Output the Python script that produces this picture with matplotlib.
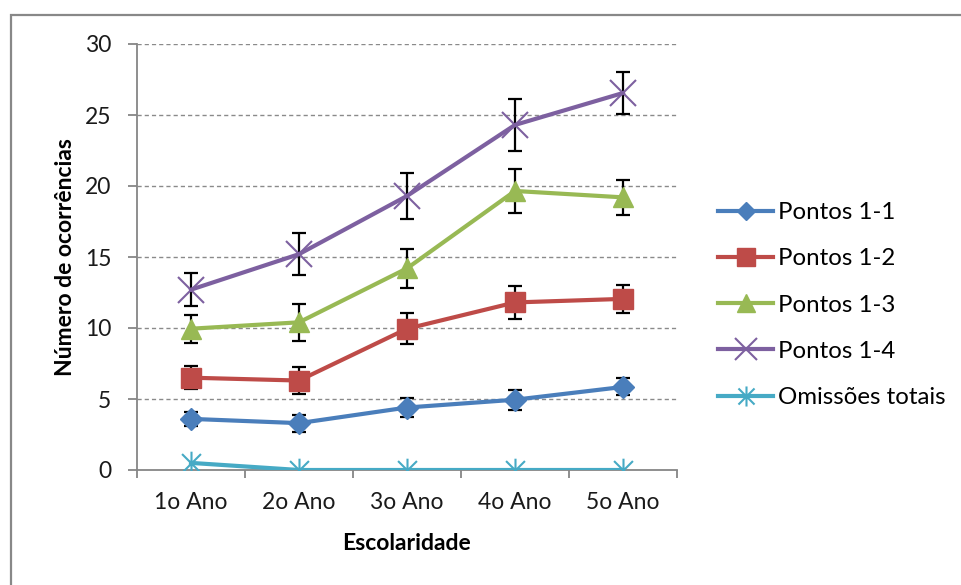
import numpy as np
import matplotlib
matplotlib.use("Agg")
import matplotlib.pyplot as plt
from matplotlib.path import Path
from matplotlib.patches import Rectangle

plt.rcParams['font.family'] = ['Lato', 'DejaVu Sans']

# dados
anos = ['1o Ano', '2o Ano', '3o Ano', '4o Ano', '5o Ano']
pontos_11 = [3.6, 3.3, 4.4, 4.95, 5.85]
erro_11 = [0.5, 0.6, 0.65, 0.7, 0.6]
pontos_12 = [6.5, 6.3, 9.95, 11.8, 12.05]
erro_12 = [0.8, 0.95, 1.1, 1.15, 1.0]
pontos_13 = [9.95, 10.4, 14.2, 19.65, 19.2]
erro_13 = [1.0, 1.3, 1.35, 1.55, 1.25]
pontos_14 = [12.7, 15.2, 19.3, 24.3, 26.55]
erro_14 = [1.15, 1.5, 1.6, 1.85, 1.45]
omissoes = [0.5, 0, 0, 0, 0]

# marcador asterisco estilo Excel (x + linha vertical)
asterisco = Path([(-1, -1), (1, 1), (-1, 1), (1, -1), (0, -1.25), (0, 1.25)],
                 [Path.MOVETO, Path.LINETO] * 3)

fig = plt.figure(figsize=(9.62, 5.85), dpi=100)
ax = fig.add_axes([137/962, 1 - 470/585, 540/962, 426/585])

x = np.arange(len(anos))

series = [
    (pontos_11, erro_11, 'Pontos 1-1', '#4A7EBB', dict(marker='D', ms=11)),
    (pontos_12, erro_12, 'Pontos 1-2', '#BE4B48', dict(marker='s', ms=15)),
    (pontos_13, erro_13, 'Pontos 1-3', '#98B954', dict(marker='^', ms=15)),
    (pontos_14, erro_14, 'Pontos 1-4', '#7D60A0', dict(marker='x', ms=19, mew=1.5)),
    (omissoes, None, 'Omissões totais', '#46AAC5', dict(marker=asterisco, ms=17, mew=1.5)),
]

for vals, err, nome, cor, mk in series:
    ax.plot(x, vals, color=cor, lw=3, label=nome, zorder=3,
            mfc=cor, mec=cor, **mk)
    if err is not None:
        ax.errorbar(x, vals, yerr=err, fmt='none', ecolor='black',
                    elinewidth=1.6, capsize=4.7, capthick=1.6, zorder=2.5)

ax.set_xlim(-0.5, 4.5)
ax.set_ylim(0, 30)
ax.set_yticks(np.arange(0, 31, 5))
ax.set_xticks(x)
ax.set_xticklabels(anos)
ax.set_xticks(np.arange(-0.5, 4.6, 1), minor=True)

for y in range(5, 31, 5):
    ax.axhline(y, color='#8a8a8a', lw=1, dashes=(3, 2.2), zorder=1)

for s in ['top', 'right']:
    ax.spines[s].set_visible(False)
for s in ['left', 'bottom']:
    ax.spines[s].set_color('#868686')
    ax.spines[s].set_linewidth(1.3)

ax.tick_params(axis='y', colors='#868686', length=6.5, width=1.3,
               labelcolor='#1a1a1a', labelsize=16.5, pad=12)
ax.tick_params(axis='x', which='major', length=0, labelcolor='#1a1a1a',
               labelsize=16.5, pad=16)
ax.tick_params(axis='x', which='minor', length=6, width=1.3, colors='#868686')

ax.set_ylabel('Número de ocorrências', fontsize=16.5, fontweight='bold')
ax.yaxis.set_label_coords(-0.113, 0.5)
ax.set_xlabel('Escolaridade', fontsize=16.5, fontweight='bold')
ax.xaxis.set_label_coords(0.5, -0.148)

fig.legend(loc='center left', bbox_to_anchor=(718/962, 1 - 305/585),
           frameon=False, fontsize=17.3, handlelength=2.3,
           handletextpad=0.2, labelspacing=1.05, borderpad=0,
           borderaxespad=0, markerscale=0.85)

# moldura cinza do gráfico
fig.patches.append(Rectangle((11/962, -0.2), 1.2, 1.2 - 15/585,
                             transform=fig.transFigure, fill=False,
                             ec='#888888', lw=1.6))

fig.savefig('out.png', dpi=100)
